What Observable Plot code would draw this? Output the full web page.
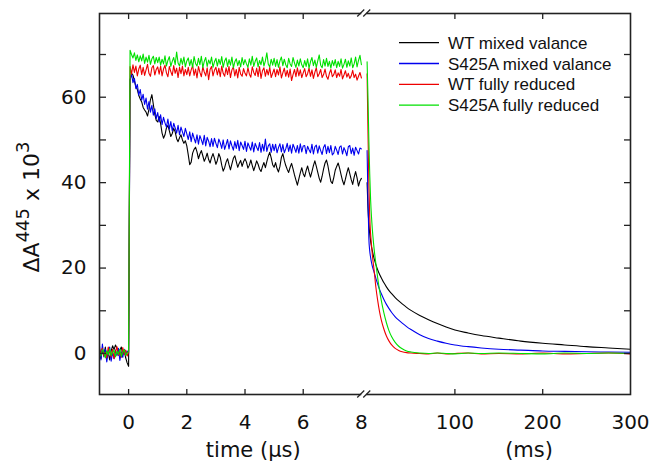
<!DOCTYPE html>
<html><head><meta charset="utf-8">
<script src="https://cdn.jsdelivr.net/npm/d3@7"></script>
<script src="https://cdn.jsdelivr.net/npm/@observablehq/plot@0.6"></script>
<style>
html,body{margin:0;padding:0;background:#fff;}
#chart{width:654px;height:464px;}
</style></head><body><div id="chart"></div>
<script>
const seriesNames = ["WT mixed valance","S425A mixed valance","WT fully reduced","S425A fully reduced"];
const seriesColors = ["#000000","#0000ee","#ee0000","#00e000"];
const drawOrder = [0,1,2,3];

// time axis of the microsecond part (µs)
const tUs = [
-1,-0.95,-0.9,-0.85,-0.8,-0.75,-0.7,-0.65,-0.6,-0.55,-0.5,-0.45,-0.4,-0.35,-0.3,-0.25,-0.2,-0.15,-0.1,-0.05,0,
0.05,0.1,0.15,0.2,0.25,0.3,0.35,0.4,0.45,0.5,0.55,0.6,0.65,0.7,0.75,0.8,0.85,0.9,0.95,1,
1.05,1.1,1.15,1.2,1.25,1.3,1.35,1.4,1.45,1.5,1.55,1.6,1.65,1.7,1.75,1.8,1.85,1.9,1.95,2,
2.05,2.1,2.15,2.2,2.25,2.3,2.35,2.4,2.45,2.5,2.55,2.6,2.65,2.7,2.75,2.8,2.85,2.9,2.95,3,
3.05,3.1,3.15,3.2,3.25,3.3,3.35,3.4,3.45,3.5,3.55,3.6,3.65,3.7,3.75,3.8,3.85,3.9,3.95,4,
4.05,4.1,4.15,4.2,4.25,4.3,4.35,4.4,4.45,4.5,4.55,4.6,4.65,4.7,4.75,4.8,4.85,4.9,4.95,5,
5.05,5.1,5.15,5.2,5.25,5.3,5.35,5.4,5.45,5.5,5.55,5.6,5.65,5.7,5.75,5.8,5.85,5.9,5.95,6,
6.05,6.1,6.15,6.2,6.25,6.3,6.35,6.4,6.45,6.5,6.55,6.6,6.65,6.7,6.75,6.8,6.85,6.9,6.95,7,
7.05,7.1,7.15,7.2,7.25,7.3,7.35,7.4,7.45,7.5,7.55,7.6,7.65,7.7,7.75,7.8,7.85,7.9,7.95,8];

const wtMixedUs = [
0.5,-1.2,0.8,-0.5,1.5,-1.0,0.2,-1.5,0.6,1.8,0.9,2.0,1.2,-0.4,0.8,1.5,-0.2,0.5,-1.0,-2.2,-3.0,
64.0,65.6,65.2,63.8,62.5,61.8,60.4,59.6,58.9,57.6,57.0,56.5,55.6,57.2,59.4,60.6,58.3,56.0,54.6,54.2,
55.5,53.8,51.6,50.4,51.2,52.8,53.4,52.1,50.8,51.5,52.7,51.9,50.3,49.6,50.5,51.2,50.0,49.2,49.8,48.6,
46.5,44.2,44.8,46.9,47.8,48.3,47.2,45.6,46.7,47.5,46.3,45.0,45.8,46.9,45.4,44.6,45.9,46.8,45.7,44.3,
45.2,46.8,45.9,44.1,42.7,43.5,44.8,45.6,44.2,43.0,44.4,45.7,46.3,44.9,43.6,44.5,45.2,43.8,44.9,45.6,
44.8,43.4,44.1,45.3,44.0,42.8,43.9,45.1,44.3,43.2,42.6,43.8,44.7,43.5,44.9,46.2,47.1,45.8,44.2,43.6,
44.7,43.3,42.5,43.8,45.9,46.8,45.2,44.0,43.1,42.4,43.6,44.5,43.2,41.8,40.6,39.4,40.9,42.3,43.5,42.1,
41.4,42.8,43.9,42.5,41.3,42.6,44.0,45.1,43.8,42.4,41.0,40.1,41.5,43.2,44.6,45.3,43.9,42.0,40.3,39.8,
41.2,42.9,43.8,44.6,43.4,41.9,40.5,39.5,40.8,42.3,43.5,42.1,40.7,39.6,41.3,42.6,41.1,39.2,40.4,41.0];

const s425aMixedUs = [
1.8,-1.5,2.2,-0.8,1.0,-2.0,0.5,1.5,-1.8,0.2,-1.2,0.8,-0.5,1.2,-1.6,0.4,-0.9,1.0,-0.3,0.6,0.0,
64.0,65.5,63.4,64.4,62.0,63.0,60.5,61.8,59.3,60.7,58.3,59.8,57.2,59.0,56.5,58.1,55.8,57.3,55.0,56.4,
54.2,55.9,53.6,55.3,54.0,53.0,54.9,52.5,54.3,52.1,53.9,52.8,51.6,53.4,51.2,53.0,51.9,50.8,52.7,51.4,
50.1,51.9,49.6,51.6,50.4,49.3,51.2,49.0,51.0,50.0,48.9,51.1,48.6,50.6,49.7,48.4,50.3,48.5,50.4,49.2,
48.2,50.2,49.3,48.0,50.0,47.8,48.9,50.1,47.9,49.8,48.6,47.6,49.6,48.0,49.9,47.5,49.5,48.7,47.8,49.7,
47.3,49.3,48.4,47.6,49.5,47.2,49.2,48.3,47.5,49.4,47.1,49.0,47.4,50.2,47.3,48.6,49.1,47.1,49.0,47.5,
49.0,47.0,48.2,49.1,47.2,48.9,47.0,47.9,49.2,47.3,48.8,46.9,49.0,48.1,47.1,48.7,46.9,49.1,47.2,48.6,
48.7,46.8,48.5,47.7,47.0,49.0,46.7,48.4,48.8,46.9,48.6,47.5,46.6,48.3,48.9,46.8,48.5,47.0,48.7,46.5,
46.9,48.5,47.6,46.6,48.3,48.6,46.7,48.2,47.4,46.3,48.4,48.7,46.8,48.1,46.4,48.3,47.5,46.7,48.1,47.9];

const wtReducedUs = [
-0.5,0.8,1.2,-0.6,0.3,-1.0,1.5,0.2,-0.8,1.0,-1.2,0.5,1.6,-0.4,0.2,-0.9,1.4,-0.2,0.8,-0.6,0.3,
67.2,65.4,67.6,65.8,67.3,65.0,66.6,67.5,65.3,67.0,65.1,66.4,67.7,65.6,64.9,66.9,67.4,65.2,66.5,67.1,
65.4,67.3,65.0,66.6,67.5,65.7,64.8,67.2,66.0,65.1,67.4,65.6,66.8,64.6,67.0,65.5,67.3,65.0,66.5,65.3,
67.0,65.0,66.4,67.4,65.1,66.6,64.5,67.2,65.8,64.8,67.1,65.9,65.0,66.9,64.1,66.5,67.2,65.0,66.3,67.0,
65.2,66.8,64.8,67.3,65.6,64.9,66.9,65.3,67.2,64.6,66.4,67.1,65.0,66.5,64.5,67.0,65.4,64.9,66.7,65.6,
65.0,66.9,65.4,64.7,67.1,65.8,65.1,66.8,64.8,67.2,64.4,66.2,66.9,64.9,66.5,65.2,67.0,64.6,65.6,66.6,
64.8,66.5,65.2,67.1,64.5,65.7,66.8,64.9,66.3,64.7,66.6,63.9,65.3,66.5,64.8,66.9,65.0,66.4,64.6,65.7,
66.7,64.8,65.5,66.8,64.9,66.4,64.4,65.8,66.9,64.8,65.5,66.5,64.6,65.3,66.6,64.9,64.2,65.6,66.5,64.8,
65.3,66.4,64.6,65.7,64.9,66.5,64.3,65.2,66.2,64.7,65.6,64.4,65.0,66.3,64.6,65.4,64.0,64.9,65.8,64.5];

const s425aReducedUs = [
0.2,-0.6,0.9,0.4,-1.0,0.6,-0.3,1.1,-0.5,0.3,0.8,-0.8,0.5,-0.2,1.0,-0.7,0.4,0.9,-0.4,0.1,0.5,
71.0,70.0,69.2,70.4,68.6,69.9,68.3,69.7,68.5,70.1,67.9,69.4,68.2,69.8,67.7,69.0,69.6,67.8,69.3,68.1,
69.4,67.5,68.9,67.8,69.7,67.3,68.6,69.5,67.2,68.4,69.3,67.6,70.6,68.0,67.3,69.1,67.7,69.4,67.1,68.5,
69.2,67.4,68.8,67.0,69.5,67.9,67.3,69.1,67.6,69.6,66.9,68.4,69.3,67.2,68.7,67.8,69.4,67.0,68.3,69.1,
67.3,68.9,67.7,69.5,67.0,68.5,69.2,67.2,68.8,67.5,69.4,66.9,68.3,69.0,67.4,68.6,67.1,69.3,67.6,68.8,
67.8,67.0,69.0,67.5,69.6,67.2,68.4,69.2,67.1,68.6,67.6,69.4,67.3,68.5,70.4,67.7,67.1,68.9,67.5,69.1,
67.2,68.8,67.0,68.5,69.4,67.4,68.9,67.6,66.9,69.1,67.8,67.2,69.3,68.0,67.0,68.7,67.3,69.0,67.6,66.9,
68.6,67.2,69.0,66.8,68.3,69.3,67.4,68.7,67.0,68.5,69.9,67.5,66.9,68.8,67.3,69.1,67.2,68.4,66.8,68.6,
67.4,68.8,66.9,68.4,67.2,69.0,66.8,67.7,68.9,67.0,68.5,67.3,69.2,66.9,67.8,69.4,67.1,68.6,69.8,67.6];

// time axis of the millisecond part (ms)
const tMs = [0,1,2,3,4,5,6,8,10,12,14,16,19,22,25,28,32,36,40,45,50,60,70,80,90,100,115,130,150,175,200,225,250,275,300];
const wtMixedMs = [40.0,34.0,30.5,28.0,26.3,25.0,24.0,22.2,20.8,19.6,18.6,17.8,16.6,15.6,14.7,14.0,13.1,12.3,11.6,10.8,10.1,8.9,7.9,7.0,6.2,5.5,4.8,4.2,3.6,2.9,2.4,2.0,1.6,1.3,1.0];
const s425aMixedMs = [47.5,36.0,27.0,24.0,22.5,21.3,20.4,19.0,17.6,16.3,15.1,14.1,12.7,11.5,10.5,9.6,8.6,7.8,7.1,6.3,5.6,4.4,3.5,2.9,2.4,2.0,1.6,1.3,1.0,0.8,0.6,0.5,0.4,0.35,0.3];
const wtReducedMs = [65.5,52.0,40.0,32.0,28.0,25.5,23.0,19.5,15.5,12.5,10.0,8.0,5.8,4.1,2.9,2.0,1.2,0.7,0.4,0.2,0.1,0.0,-0.1,0.1,-0.1,0.0,0.1,-0.1,0.0,-0.1,0.1,-0.1,0.0,0.1,-0.1];
const s425aReducedMs = [68.3,60.0,50.0,42.0,36.0,32.0,29.0,24.5,21.0,17.8,15.0,12.6,9.6,7.2,5.3,3.9,2.6,1.7,1.1,0.6,0.35,0.1,0.0,0.1,0.0,-0.1,0.1,0.0,0.1,0.0,-0.1,0.1,0.0,0.1,0.0];

// ticks
const yTicks = [0,10,20,30,40,50,60,70];
const yLabelTicks = [0,20,40,60];
const xTicksUs = [0,2,4,6];
const xTicksMs = [100,200];
const xLabelsUs = [0,2,4,6,8];
const xLabelsMs = [100,200,300];

// broken axis layout: ms part starts just after the 8 µs end
const gapUnits = 0.195, unitsPerMs = 0.03017;
const vMs = ms => 8 + gapUnits + ms * unitsPerMs;

const usSeries = [wtMixedUs, s425aMixedUs, wtReducedUs, s425aReducedUs];
const msSeries = [wtMixedMs, s425aMixedMs, wtReducedMs, s425aReducedMs];
const leftData = drawOrder.flatMap(s => tUs.map((t, i) => ({x: t, y: usSeries[s][i], series: seriesNames[s]})));
const rightData = drawOrder.flatMap(s => tMs.map((t, i) => ({x: vMs(t), y: msSeries[s][i], series: seriesNames[s]})));

const xTickPos = [...xTicksUs, ...xTicksMs.map(vMs)];
const xLabelPos = [...xLabelsUs, ...xLabelsMs.map(vMs)];
const xLabelText = [...xLabelsUs, ...xLabelsMs].map(String);

const axisColor = "#222";
const axisFont = "DejaVu Sans, sans-serif";
const yDomain = [-9.6, 79.6];
const xDomain = [-1, vMs(300)];

const plot = Plot.plot({
  width: 654, height: 464,
  marginLeft: 99, marginRight: 24, marginTop: 13, marginBottom: 70,
  x: {domain: xDomain, axis: null},
  y: {domain: yDomain, axis: null},
  color: {domain: seriesNames, range: seriesColors},
  style: {fontFamily: axisFont, fontSize: "20px", color: "#000", background: "#fff", overflow: "visible"},
  marks: [
    Plot.line(leftData, {x: "x", y: "y", z: "series", stroke: "series", strokeWidth: 1.1}),
    Plot.line(rightData, {x: "x", y: "y", z: "series", stroke: "series", strokeWidth: 1.1, curve: "monotone-x"}),
    Plot.frame({stroke: axisColor, strokeWidth: 1.6}),
    // inward ticks on all four sides
    Plot.axisY(yTicks, {anchor: "right", frameAnchor: "left", tickSize: 6, fill: "none", label: null, stroke: axisColor, strokeWidth: 1.3}),
    Plot.axisY(yTicks, {anchor: "left", frameAnchor: "right", tickSize: 6, fill: "none", label: null, stroke: axisColor, strokeWidth: 1.3}),
    Plot.axisX(xTickPos, {anchor: "bottom", frameAnchor: "top", tickSize: 6, fill: "none", label: null, stroke: axisColor, strokeWidth: 1.3}),
    Plot.axisX(xTickPos, {anchor: "top", frameAnchor: "bottom", tickSize: 6, fill: "none", label: null, stroke: axisColor, strokeWidth: 1.3}),
    // labels
    Plot.axisY(yLabelTicks, {anchor: "left", tickSize: 0, tickPadding: 13, label: null, fill: "#111"}),
    Plot.axisX(xLabelPos, {anchor: "bottom", tickSize: 0, tickPadding: 20, label: null, fill: "#111",
      tickFormat: d => xLabelText[xLabelPos.indexOf(d)]})
  ]
});

document.getElementById("chart").appendChild(plot);
const svg = d3.select(plot);
const xs = plot.scale("x"), ys = plot.scale("y");

// axis break marks
const cx = (xs.apply(8) + xs.apply(vMs(0))) / 2;
for (const yy of [ys.apply(yDomain[1]), ys.apply(yDomain[0])]) {
  svg.append("rect").attr("x", cx - 2.5).attr("y", yy - 4).attr("width", 5).attr("height", 8).attr("fill", "#fff");
  for (const dx of [-3, 3]) {
    svg.append("line").attr("x1", cx + dx - 3.5).attr("y1", yy + 3.5).attr("x2", cx + dx + 3.5).attr("y2", yy - 3.5)
      .attr("stroke", axisColor).attr("stroke-width", 1.3);
  }
}

// axis titles
svg.append("text").attr("x", xs.apply(4.3)).attr("y", 457).attr("text-anchor", "middle")
  .attr("font-family", axisFont).attr("font-size", 21).attr("fill", "#111").text("time (μs)");
svg.append("text").attr("x", xs.apply(vMs(185))).attr("y", 457).attr("text-anchor", "middle")
  .attr("font-family", axisFont).attr("font-size", 21).attr("fill", "#111").text("(ms)");

const yl = svg.append("text").attr("transform", "translate(39,207) rotate(-90)").attr("text-anchor", "middle")
  .attr("font-family", axisFont).attr("font-size", 22).attr("fill", "#111");
yl.append("tspan").text("ΔA");
yl.append("tspan").attr("font-size", 18).attr("dy", -10).text("445");
yl.append("tspan").attr("dy", 10).text(" x 10");
yl.append("tspan").attr("font-size", 18).attr("dy", -10).text("3");

// legend
const lg = svg.append("g").attr("font-family", "Liberation Sans, Arial, sans-serif").attr("font-size", 17)
  .attr("fill", "#111").attr("text-anchor", "start");
seriesNames.forEach((name, i) => {
  const yy = 42.7 + i * 20.8;
  lg.append("line").attr("x1", 399).attr("x2", 439).attr("y1", yy).attr("y2", yy)
    .attr("stroke", seriesColors[i]).attr("stroke-width", 1.3);
  lg.append("text").attr("x", 448).attr("y", yy + 6).attr("text-anchor", "start").text(name);
});
</script>
</body></html>
